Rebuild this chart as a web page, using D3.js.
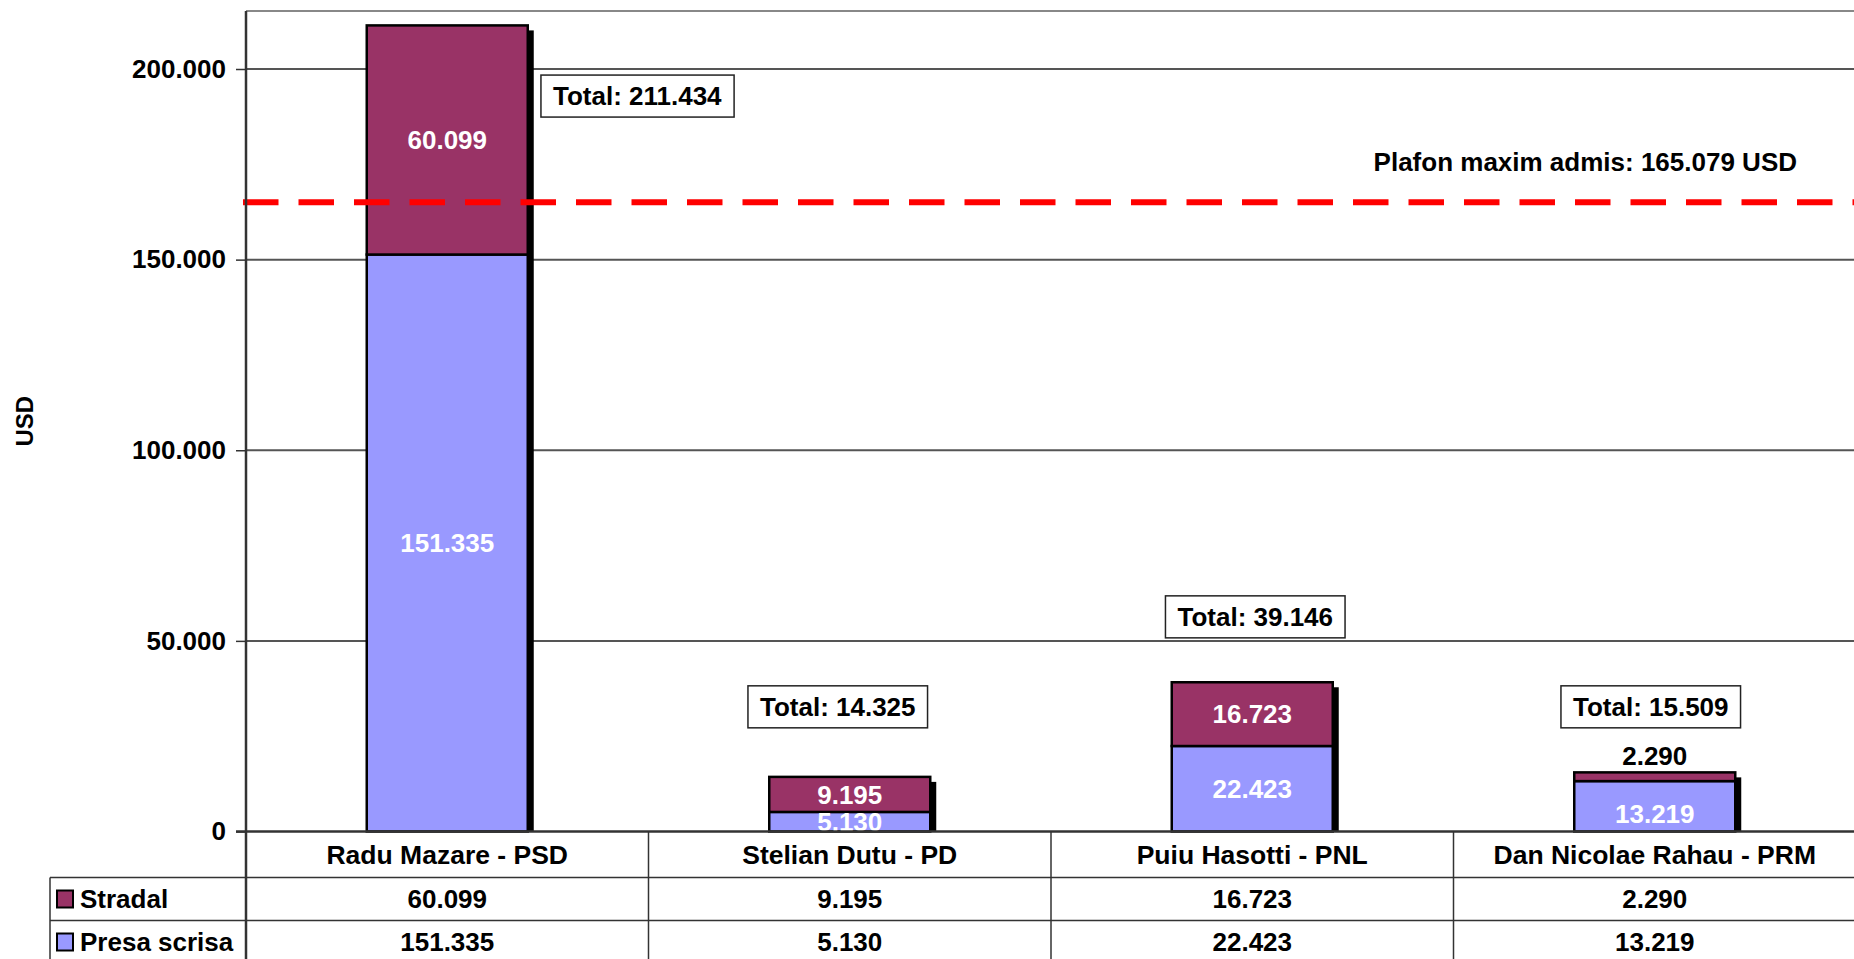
<!DOCTYPE html>
<html>
<head>
<meta charset="utf-8">
<script src="https://cdn.jsdelivr.net/npm/d3@7"></script>
<style>
  body { margin: 0; background: #fff; }
  svg { display: block; font-family: Arial, "Liberation Sans", sans-serif; font-weight: bold; }
</style>
</head>
<body>
<svg id="chart" width="1854" height="959"></svg>
<script>
// chart values
const categories = ["Radu Mazare - PSD", "Stelian Dutu - PD", "Puiu Hasotti - PNL", "Dan Nicolae Rahau - PRM"];
const presaScrisa = [151335, 5130, 22423, 13219];
const stradal = [60099, 9195, 16723, 2290];
const seriesKeys = ["Presa scrisa", "Stradal"];
const seriesColors = ["#9999ff", "#993366"];
const yTicks = [0, 50000, 100000, 150000, 200000];
const plafon = 165079;
const plafonLabel = "Plafon maxim admis: 165.079 USD";
const yTitle = "USD";

// where the "Total" boxes were dragged to (dx from band centre, value of box centre)
const totalBoxDx = [190, -12, 3, -4];
const totalBoxAt = [192900, 32700, 56300, 32700];

const ro = d3.formatLocale({ decimal: ",", thousands: ".", grouping: [3], currency: ["", ""] });
const fmt = ro.format(",d");

const W = 1854, H = 959;
const plotLeft = 246, plotRight = 1856, plotTop = 11, base = 831.5;
const rowH = [46, 43, 43];

const svg = d3.select("#chart");

const x = d3.scaleBand().domain(categories).range([plotLeft, plotRight]).paddingInner(0.6).paddingOuter(0.3);
const y = d3.scaleLinear().domain([0, 200000]).range([base, 69]);
const step = x.step();

const rows = categories.map((c, i) => ({ cat: c, "Presa scrisa": presaScrisa[i], "Stradal": stradal[i] }));
const stack = d3.stack().keys(seriesKeys)(rows);

// plot top border
svg.append("line")
  .attr("x1", plotLeft).attr("x2", W).attr("y1", plotTop).attr("y2", plotTop)
  .attr("stroke", "#888").attr("stroke-width", 2);

// gridlines + ticks
const yAxis = svg.append("g")
  .attr("transform", `translate(${plotLeft},0)`)
  .call(d3.axisLeft(y).tickValues(yTicks).tickFormat(fmt).tickSize(10).tickPadding(10));
yAxis.select(".domain").remove();
yAxis.selectAll(".tick line").attr("stroke", "#333").attr("stroke-width", 1.5);
yAxis.selectAll(".tick text")
  .attr("font-family", "Arial, 'Liberation Sans', sans-serif")
  .attr("font-weight", "bold").attr("font-size", 26).attr("fill", "#000");

svg.append("g").selectAll("line")
  .data(yTicks.filter(d => d > 0))
  .join("line")
  .attr("x1", plotLeft).attr("x2", W)
  .attr("y1", d => y(d)).attr("y2", d => y(d))
  .attr("stroke", "#555").attr("stroke-width", 2);

// bar shadows
svg.append("g").selectAll("rect")
  .data(rows)
  .join("rect")
  .attr("x", d => x(d.cat) + 6)
  .attr("y", d => y(d["Presa scrisa"] + d["Stradal"]) + 5)
  .attr("width", x.bandwidth())
  .attr("height", d => base - y(d["Presa scrisa"] + d["Stradal"]) - 5)
  .attr("fill", "#000");

// stacked bars
svg.append("g").selectAll("g")
  .data(stack)
  .join("g")
  .attr("fill", (d, i) => seriesColors[i])
  .selectAll("rect")
  .data(d => d)
  .join("rect")
  .attr("x", d => x(d.data.cat))
  .attr("y", d => y(d[1]))
  .attr("width", x.bandwidth())
  .attr("height", d => y(d[0]) - y(d[1]))
  .attr("stroke", "#000").attr("stroke-width", 2.5);

// segment labels
const labelNudge = { "Presa scrisa": [0, 0, 0, 7], "Stradal": [0, 0, 0, 0] };
stack.forEach((s, si) => {
  svg.append("g").selectAll("text")
    .data(s)
    .join("text")
    .each(function (d, i) {
      const h = y(d[0]) - y(d[1]);
      const outside = si === stack.length - 1 && h < 12;
      d3.select(this)
        .attr("x", x(d.data.cat) + x.bandwidth() / 2)
        .attr("y", outside ? y(d[1]) - 17 : (y(d[0]) + y(d[1])) / 2 + labelNudge[s.key][i])
        .attr("fill", outside ? "#000" : "#fff");
    })
    .attr("dy", "0.36em")
    .attr("text-anchor", "middle")
    .attr("font-size", 26)
    .text(d => fmt(d[1] - d[0]));
});

// total boxes
const totals = rows.map((d, i) => ({ cat: d.cat, total: d["Presa scrisa"] + d["Stradal"], i }));
const tg = svg.append("g").selectAll("g")
  .data(totals)
  .join("g")
  .attr("transform", d => `translate(${x(d.cat) + x.bandwidth() / 2 + totalBoxDx[d.i]},${y(totalBoxAt[d.i])})`);
tg.append("rect");
tg.append("text")
  .attr("text-anchor", "middle").attr("dy", "0.36em")
  .attr("font-size", 26).attr("fill", "#000")
  .text(d => "Total: " + fmt(d.total));
tg.each(function () {
  const g = d3.select(this);
  const b = g.select("text").node().getBBox();
  g.select("rect")
    .attr("x", b.x - 12).attr("y", -21)
    .attr("width", b.width + 24).attr("height", 42)
    .attr("fill", "#fff").attr("stroke", "#222").attr("stroke-width", 1.5);
});

// ceiling line
svg.append("line")
  .attr("x1", 243).attr("x2", W)
  .attr("y1", y(plafon)).attr("y2", y(plafon))
  .attr("stroke", "#ff0000").attr("stroke-width", 6)
  .attr("stroke-dasharray", "35.5,20");
svg.append("text")
  .attr("x", 1797).attr("y", y(plafon) - 40)
  .attr("dy", "0.36em").attr("text-anchor", "end")
  .attr("font-size", 26).attr("fill", "#000")
  .text(plafonLabel);

// y title
svg.append("text")
  .attr("transform", `translate(24,${(plotTop + base) / 2}) rotate(-90)`)
  .attr("dy", "0.36em").attr("text-anchor", "middle")
  .attr("font-size", 24).attr("fill", "#000")
  .text(yTitle);

// data table
const tableLeft = 50;
const rowTop = [base, base + rowH[0], base + rowH[0] + rowH[1]];
const table = svg.append("g");

table.append("line")
  .attr("x1", tableLeft).attr("x2", W).attr("y1", rowTop[1]).attr("y2", rowTop[1])
  .attr("stroke", "#333").attr("stroke-width", 1.5);
table.append("line")
  .attr("x1", tableLeft).attr("x2", W).attr("y1", rowTop[2]).attr("y2", rowTop[2])
  .attr("stroke", "#333").attr("stroke-width", 1.5);
table.append("line")
  .attr("x1", tableLeft).attr("x2", tableLeft).attr("y1", rowTop[1]).attr("y2", H)
  .attr("stroke", "#333").attr("stroke-width", 1.5);
table.selectAll(".col")
  .data(categories.slice(1))
  .join("line")
  .attr("x1", d => x(d) - step * 0.3).attr("x2", d => x(d) - step * 0.3)
  .attr("y1", base).attr("y2", H)
  .attr("stroke", "#333").attr("stroke-width", 1.5);

table.selectAll(".cat")
  .data(categories)
  .join("text")
  .attr("x", d => x(d) + x.bandwidth() / 2)
  .attr("y", rowTop[0] + rowH[0] / 2)
  .attr("dy", "0.36em").attr("text-anchor", "middle")
  .attr("font-size", 26.5).attr("fill", "#000")
  .text(d => d);

const tableRows = [
  { key: "Stradal", values: stradal, color: seriesColors[1] },
  { key: "Presa scrisa", values: presaScrisa, color: seriesColors[0] }
];
tableRows.forEach((r, ri) => {
  const cy = rowTop[ri + 1] + rowH[ri + 1] / 2;
  table.append("rect")
    .attr("x", 57).attr("y", cy - 8.5).attr("width", 16).attr("height", 17)
    .attr("fill", r.color).attr("stroke", "#000").attr("stroke-width", 2);
  table.append("text")
    .attr("x", 80).attr("y", cy).attr("dy", "0.36em")
    .attr("font-size", 26).attr("fill", "#000")
    .text(r.key);
  table.selectAll(null)
    .data(r.values)
    .join("text")
    .attr("x", (d, i) => x(categories[i]) + x.bandwidth() / 2)
    .attr("y", cy).attr("dy", "0.36em").attr("text-anchor", "middle")
    .attr("font-size", 26).attr("fill", "#000")
    .text(d => fmt(d));
});

// axes lines on top
svg.append("line")
  .attr("x1", plotLeft).attr("x2", plotLeft).attr("y1", plotTop).attr("y2", H)
  .attr("stroke", "#333").attr("stroke-width", 2.5);
svg.append("line")
  .attr("x1", plotLeft - 10).attr("x2", W).attr("y1", base).attr("y2", base)
  .attr("stroke", "#333").attr("stroke-width", 2.5);
</script>
</body>
</html>
